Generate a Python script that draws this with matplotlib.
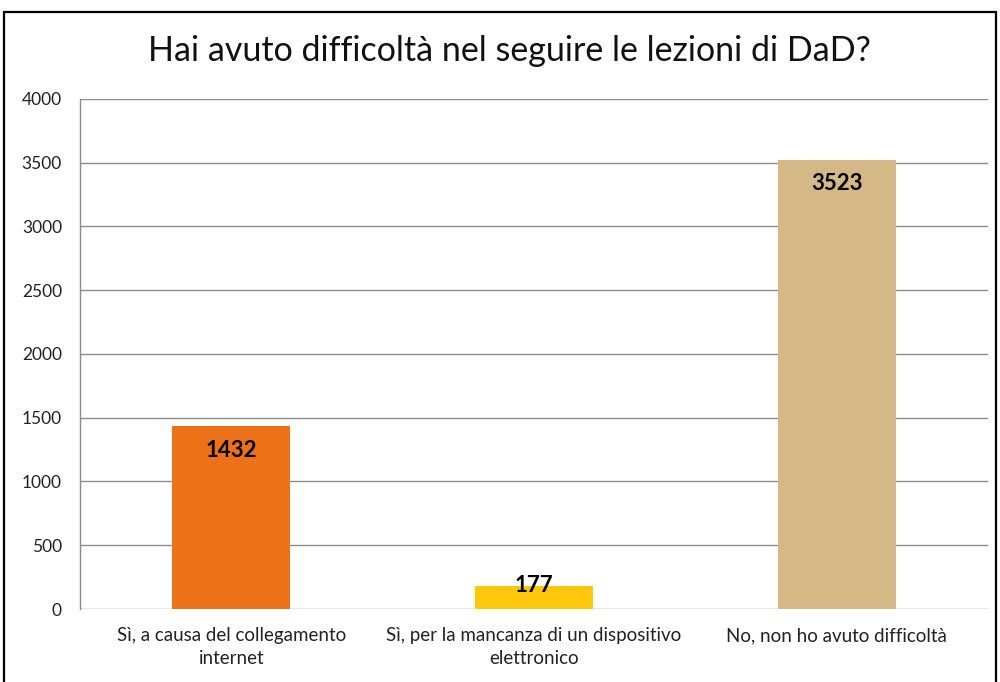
import numpy as np
import matplotlib.pyplot as plt
from matplotlib.patches import Rectangle

# Data
categories = ["Sì, a causa del collegamento\ninternet",
              "Sì, per la mancanza di un dispositivo\nelettronico",
              "No, non ho avuto difficoltà"]
values = [1432, 177, 3523]
colors = ["#EC7118", "#FDC80B", "#D4B886"]
yticks = [0, 500, 1000, 1500, 2000, 2500, 3000, 3500, 4000]

plt.rcParams['font.family'] = ['Lato', 'DejaVu Sans']

fig = plt.figure(figsize=(10, 6.82), dpi=100)
ax = fig.add_axes([0.08, 0.107, 0.908, 0.748])

x = np.arange(len(categories))
bars = ax.bar(x, values, width=0.39, color=colors, zorder=3)

ax.set_xlim(-0.5, len(categories) - 0.5)
ax.set_ylim(0, 4000)
ax.set_yticks(yticks)
ax.set_xticks(x)
ax.set_xticklabels(categories, fontsize=13.5, color="#222222", linespacing=1.45)
ax.tick_params(axis='y', labelsize=12.5, length=0, pad=13, colors="#222222")
ax.tick_params(axis='x', length=0, pad=13)

ax.grid(axis='y', color="#8c8c8c", linewidth=1.0, zorder=0)
for s in ['top', 'right', 'bottom']:
    ax.spines[s].set_visible(False)
ax.spines['left'].set_color("#8c8c8c")
ax.spines['left'].set_linewidth(1.0)

# value labels inside the top of each bar
for xi, v in zip(x, values):
    if v > 400:
        ax.annotate(str(v), (xi, v), xytext=(0, -17), textcoords='offset points',
                    ha='center', va='center', fontsize=16, fontweight='bold', zorder=5)
    else:
        ax.annotate(str(v), (xi, v), xytext=(0, 1), textcoords='offset points',
                    ha='center', va='center', fontsize=16, fontweight='bold', zorder=5)

fig.text(0.509, 0.925, "Hai avuto difficoltà nel seguire le lezioni di DaD?",
         ha='center', va='center', fontsize=24.5, color="#111111")

# chart border
fig.patches.append(Rectangle((0.004, -0.01), 0.992, 1 - 12 / 682 + 0.01,
                             transform=fig.transFigure, fill=False,
                             edgecolor='black', linewidth=1.6))

fig.savefig("out.png", dpi=100)
